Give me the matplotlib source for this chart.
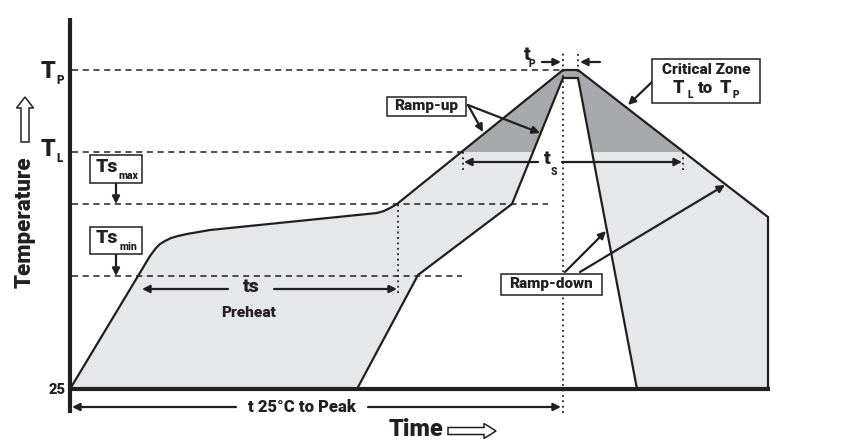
import numpy as np
import matplotlib
matplotlib.use("Agg")
import matplotlib.pyplot as plt
from matplotlib.patches import Polygon, Rectangle, FancyArrow

plt.rcParams['font.family'] = ['Roboto', 'DejaVu Sans']
plt.rcParams['font.weight'] = 'bold'

# schematic units: x = time, y = temperature (drawing is a sketch, no real scale)
T25, TSMIN, TSMAX, TL, TP = 53, 166, 238, 290, 372
T_START, T_PEAK_L, T_PEAK_R, T_END = 70, 563, 578, 768

# outer (slow) profile
outer_t = [70, 138, 150, 153, 156, 160, 165, 171, 178, 187, 210, 377, 384, 390, 397, 563, 578, 725, 768, 768]
outer_T = [53, 166, 186, 190, 194, 198, 201, 204, 206, 208, 212, 229, 231, 234, 238, 372, 372, 258, 225, 53]
# inner (fast) profile
inner_t = [357, 418, 512, 563, 578, 637]
inner_T = [53, 167, 238, 364, 364, 53]

LIGHT = '#e6e7e8'
DARK = '#a7a9ac'
INK = '#231f20'

fig = plt.figure(figsize=(8.51, 4.42), dpi=100)
ax = fig.add_axes([0, 0, 1, 1])
ax.set_xlim(0, 851)
ax.set_ylim(0, 442)
ax.axis('off')

# filled process window
poly_x = outer_t + inner_t[::-1]
poly_y = outer_T + inner_T[::-1]
pts = np.column_stack([poly_x, poly_y])
ax.add_patch(Polygon(pts, closed=True, fc=LIGHT, ec='none', zorder=1))
crit = Polygon(pts, closed=True, fc=DARK, ec='none', zorder=2)
ax.add_patch(crit)
crit.set_clip_path(Rectangle((0, TL), 851, 200, transform=ax.transData))

# profile outlines
ax.plot(outer_t, outer_T, color=INK, lw=1.6, zorder=5, solid_joinstyle='miter')
ax.plot(inner_t, inner_T, color=INK, lw=1.6, zorder=5, solid_joinstyle='miter')

# axes
ax.plot([T_START, T_START], [29, 424], color=INK, lw=3, zorder=6, solid_capstyle='butt')
ax.plot([T_START, 770], [T25, T25], color=INK, lw=3, zorder=6, solid_capstyle='butt')

# dashed temperature levels
dash = dict(color=INK, lw=1.1, ls=(0, (4, 3)), zorder=4)
ax.plot([72, 560], [TP, TP], **dash)
ax.plot([72, 463], [TL, TL], **dash)
ax.plot([72, 548], [TSMAX, TSMAX], **dash)
ax.plot([72, 462], [TSMIN, TSMIN], **dash)

# dotted verticals
dot = dict(color=INK, lw=1.3, ls=(0, (1, 2)), zorder=4)
ax.plot([T_PEAK_L, T_PEAK_L], [29, 390], **dot)
ax.plot([T_PEAK_R, T_PEAK_R], [370, 390], **dot)
ax.plot([398, 398], [149, TSMAX], **dot)
ax.plot([463, 463], [272, TL], **dot)
ax.plot([683, 683], [272, TL], **dot)


def arrow(x0, y0, x1, y1):
    ax.annotate('', xy=(x1, y1), xytext=(x0, y0),
                arrowprops=dict(arrowstyle='-|>', color=INK, lw=1.6,
                                mutation_scale=11, shrinkA=0, shrinkB=0),
                zorder=7)


def box(x0, y0, x1, y1):
    ax.add_patch(Rectangle((x0, y0), x1 - x0, y1 - y0, fc='white', ec=INK, lw=1.1, zorder=8))


def txt(x, y, s, size, **kw):
    ax.text(x, y, s, fontsize=size, fontweight='black', ha='center', va='center',
            color=INK, zorder=9, **kw)


# duration arrows
arrow(228, 153, 142, 153)
arrow(274, 153, 397, 153)
txt(251, 155, 'ts', 14)
txt(249, 129, 'Preheat', 11)

arrow(538, 280, 464, 280)
arrow(562, 280, 682, 280)
txt(547, 283, 't', 14)
txt(554, 270, 'S', 7.5)

arrow(236, 35, 72, 35)
arrow(368, 35, 561, 35)
txt(302, 35, 't 25°C to Peak', 12)

arrow(542, 380, 561, 380)
arrow(600, 380, 580, 380)
txt(527, 387, 't', 14)
txt(532, 378, 'P', 7.5)

# labelled boxes
box(387, 326, 466, 345)
txt(426, 336, 'Ramp-up', 11)
arrow(468, 337, 483, 310)
arrow(468, 337, 540, 309)

box(652, 339, 760, 383)
txt(706, 372, 'Critical Zone', 11)
txt(678, 354, 'T', 13)
txt(690, 347, 'L', 7.5)
txt(705, 354, 'to', 12)
txt(725, 354, 'T', 13)
txt(736, 347, 'P', 7.5)
arrow(653, 361, 628, 337)

box(501, 147, 602, 168)
txt(551, 158, 'Ramp-down', 11)
arrow(565, 170, 606, 211)
arrow(580, 170, 725, 257)

box(90, 259, 142, 287)
txt(107, 275, 'Ts', 14)
txt(128, 266, 'max', 7.5)
arrow(116, 259, 116, TSMAX)

box(90, 188, 142, 215)
txt(107, 204, 'Ts', 14)
txt(128, 195, 'min', 7.5)
arrow(116, 188, 116, TSMIN)

# axis labels
txt(48, 371, 'T', 17)
txt(60, 361, 'P', 8.5)
txt(48, 292, 'T', 17)
txt(60, 283, 'L', 8.5)
ax.text(66, 52, '25', fontsize=10.5, fontweight='black', ha='right', va='center', color=INK)

txt(25, 220, 'Temperature', 16, rotation=90)
ax.add_patch(FancyArrow(25, 300, 0, 45, width=8, head_width=17, head_length=11,
                        length_includes_head=True, fc='white', ec=INK, lw=1.1, zorder=8))
txt(416, 12, 'Time', 17)
ax.add_patch(FancyArrow(448, 11, 48, 0, width=7, head_width=15, head_length=12,
                        length_includes_head=True, fc='white', ec=INK, lw=1.1, zorder=8))

fig.savefig('out.png', dpi=100)
